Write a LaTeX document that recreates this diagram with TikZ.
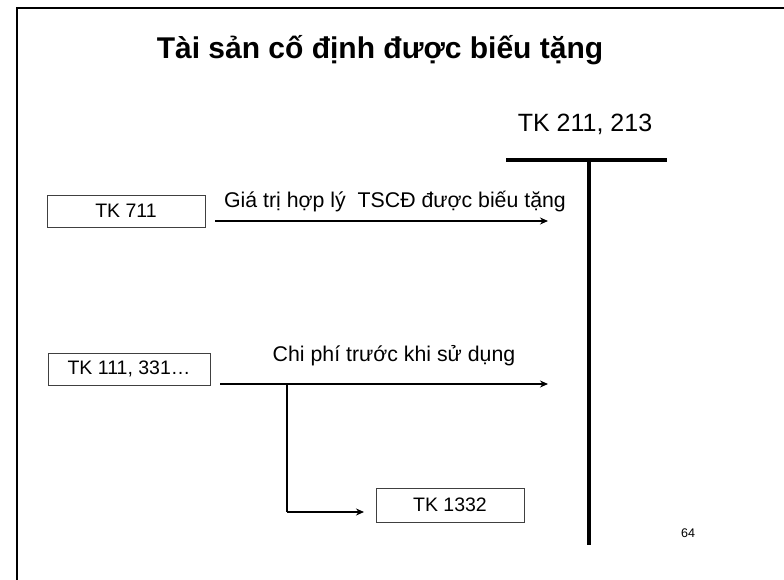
\documentclass[tikz,border=0pt]{standalone}
\usepackage{fontspec}
\setmainfont{Liberation Sans}
\usetikzlibrary{arrows.meta}
\begin{document}
\begin{tikzpicture}[x=1pt,y=-1pt,
  acct/.style={draw=black!75,line width=0.9pt,minimum height=32pt,inner sep=0pt,font=\fontsize{19.5}{21}\selectfont},
  flow/.style={line width=2.7pt,-{Stealth[length=8pt,width=7pt]}},
  tline/.style={line width=4pt},
  lbl/.style={font=\fontsize{21.3}{23}\selectfont,inner sep=0pt}]
\useasboundingbox (0,0) rectangle (784,580);
\draw[line width=2.2pt] (17,585) -- (17,8) -- (790,8);
\node[font=\bfseries\fontsize{30}{33}\selectfont] (title) at (380,50) {Tài sản cố định được biếu tặng};
\node[font=\fontsize{25}{28}\selectfont] (tk211) at (585,124) {TK 211, 213};
\coordinate (tl) at (506,160);
\coordinate (tr) at (667,160);
\coordinate (tt) at (589,160);
\coordinate (tb) at (589,545);
\draw[tline] (tl) -- (tr);
\draw[tline] (tt) -- (tb);
\node[acct,minimum width=158pt] (tk711) at (126,211) {TK 711};
\coordinate (a1s) at (215,221);
\coordinate (a1e) at (548,221);
\draw[flow] (a1s) -- (a1e);
\node[lbl] (l1) at (395,202) {Giá trị hợp lý\ \ TSCĐ được biếu tặng};
\node[acct,minimum width=162pt] (tk111) at (129,369) {TK 111, 331…};
\coordinate (a2s) at (220,384);
\coordinate (a2e) at (548,384);
\draw[flow] (a2s) -- (a2e);
\node[lbl] (l2) at (394,356) {Chi phí trước khi sử dụng};
\coordinate (br) at (287,384);
\node[acct,minimum width=148pt,minimum height=34pt] (tk1332) at (450,505) {TK 1332};
\coordinate (bc) at (287,512);
\coordinate (be) at (364,512);
\draw[line width=2.7pt] (br) -- (bc);
\draw[flow] (bc) -- (be);
\node[font=\fontsize{12.5}{14}\selectfont] (pg) at (688,533) {64};
\end{tikzpicture}
\end{document}
